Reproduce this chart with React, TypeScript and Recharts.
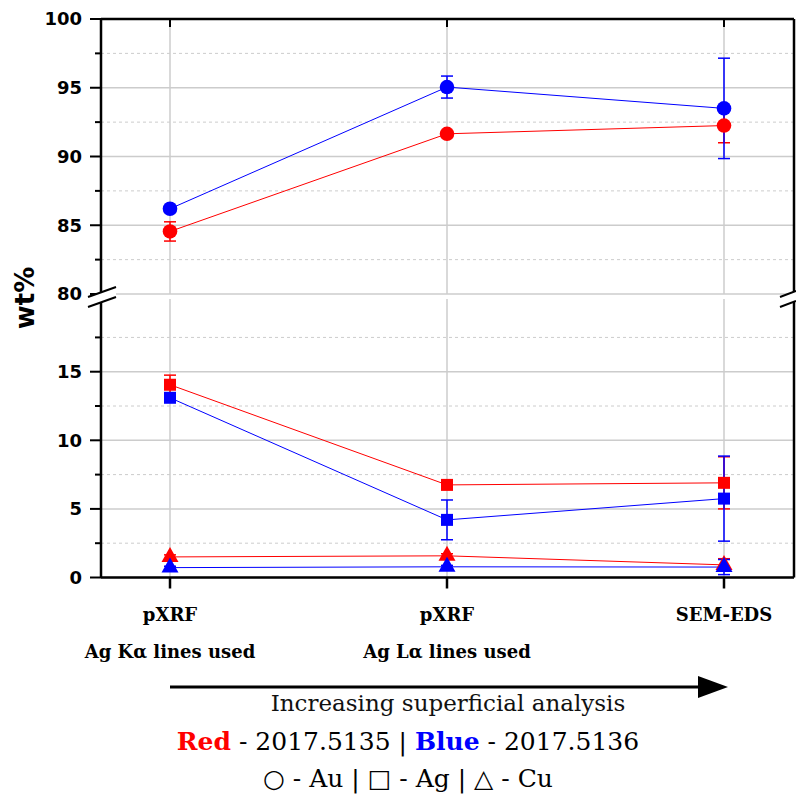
import { LineChart, Line, XAxis, YAxis, CartesianGrid, ErrorBar } from "recharts"

// categories along x
const categories = ["pXRF-K", "pXRF-L", "SEM-EDS"]
const categoryLabels = [["pXRF", "Ag K\u03b1 lines used"], ["pXRF", "Ag L\u03b1 lines used"], ["SEM-EDS"]]

// Au (circles)
const auRed = [84.55, 91.65, 92.25]
const auRedErr = [0.7, 0.2, 1.25]
const auBlue = [86.2, 95.05, 93.5]
const auBlueErr = [0.2, 0.8, 3.65]

// Ag (squares)
const agRed = [14.05, 6.75, 6.9]
const agRedErr = [0.7, 0.15, 1.9]
const agBlue = [13.1, 4.2, 5.75]
const agBlueErr = [0.3, 1.45, 3.1]

// Cu (triangles)
const cuRed = [1.5, 1.58, 0.92]
const cuRedErr = [0.15, 0.15, 0.45]
const cuBlue = [0.72, 0.78, 0.76]
const cuBlueErr = [0.1, 0.1, 0.55]

const topTicks = [80, 82.5, 85, 87.5, 90, 92.5, 95, 97.5, 100]
const topMajor = [80, 85, 90, 95, 100]
const topMinor = [82.5, 87.5, 92.5, 97.5]
const bottomTicks = [0, 2.5, 5, 7.5, 10, 12.5, 15, 17.5]
const bottomMajor = [0, 5, 10, 15]
const bottomMinor = [2.5, 7.5, 12.5, 17.5]

const RED = "#ff0000"
const BLUE = "#0000ff"
const GRID = "#cccccc"

const topData = categories.map((c, i) => ({
  cat: c,
  auRed: auRed[i],
  auRedErr: auRedErr[i],
  auBlue: auBlue[i],
  auBlueErr: auBlueErr[i],
}))

const bottomData = categories.map((c, i) => ({
  cat: c,
  agRed: agRed[i],
  agRedErr: agRedErr[i],
  agBlue: agBlue[i],
  agBlueErr: agBlueErr[i],
  cuRed: cuRed[i],
  cuRedErr: cuRedErr[i],
  cuBlue: cuBlue[i],
  cuBlueErr: cuBlueErr[i],
}))

const circleDot = (color: string) => (p: any) => (
  <circle key={p.key} cx={p.cx} cy={p.cy} r={7.3} fill={color} />
)
const squareDot = (color: string) => (p: any) => (
  <rect key={p.key} x={p.cx - 6} y={p.cy - 6} width={12} height={12} fill={color} />
)
const triangleDot = (color: string) => (p: any) => (
  <polygon
    key={p.key}
    points={`${p.cx},${p.cy - 10} ${p.cx - 8.5},${p.cy + 5} ${p.cx + 8.5},${p.cy + 5}`}
    fill={color}
  />
)

const leftTick = (majors: number[]) => (props: any) => {
  const { x, y, payload } = props
  const major = majors.includes(payload.value)
  return (
    <g>
      <line x1={x - (major ? 11 : 6)} x2={x} y1={y} y2={y} stroke="#000" strokeWidth={2} />
      {major && (
        <text
          x={x - 19}
          y={y}
          dy="0.36em"
          textAnchor="end"
          fontFamily="DejaVu Sans"
          fontWeight="bold"
          fontSize={18}
          fill="#000"
        >
          {payload.value}
        </text>
      )}
    </g>
  )
}

// right axis: ticks point into the plot
const RightTick = (props: any) => (
  <g>
    <line x1={props.x - 12} x2={props.x} y1={props.y} y2={props.y} stroke="#000" strokeWidth={2} />
  </g>
)

// top axis: ticks point down into the plot
const TopTick = (props: any) => (
  <g>
    <line x1={props.x} x2={props.x} y1={props.y} y2={props.y + 8} stroke="#000" strokeWidth={2} />
  </g>
)

const CategoryTick = (props: any) => {
  const { x, y, payload } = props
  const lines = categoryLabels[categories.indexOf(payload.value)] || []
  return (
    <g>
      {lines.map((t, i) => (
        <text
          key={i}
          x={x}
          y={y + 32 + i * 37}
          textAnchor="middle"
          fontFamily="DejaVu Serif"
          fontWeight="bold"
          fontSize={18}
          fill="#000"
        >
          {t}
        </text>
      ))}
    </g>
  )
}

const axisStroke = { stroke: "#000", strokeWidth: 2.5 }

export default function App() {
  return (
    <div style={{ position: "absolute", left: 0, top: 0, width: 796, height: 798, background: "#fff" }}>
      {/* upper panel: 80 - 100 */}
      <div style={{ position: "absolute", left: 0, top: 0 }}>
        <LineChart width={796} height={312} data={topData} margin={{ top: 18, right: 1, bottom: 18, left: 0 }}>
          <CartesianGrid horizontal={false} stroke={GRID} strokeWidth={1.5} />
          <CartesianGrid vertical={false} horizontalValues={topMajor} stroke={GRID} strokeWidth={1.5} />
          <CartesianGrid vertical={false} horizontalValues={topMinor} stroke={GRID} strokeDasharray="3 3" />
          <XAxis
            dataKey="cat"
            orientation="top"
            height={1}
            padding={{ left: 69, right: 70 }}
            interval={0}
            tickLine={false}
            tickSize={0}
            tickMargin={0}
            tick={TopTick}
            axisLine={axisStroke}
          />
          <YAxis
            width={101}
            domain={[80, 100]}
            ticks={topTicks}
            interval={0}
            tickLine={false}
            tickSize={0}
            tickMargin={0}
            axisLine={axisStroke}
            tick={leftTick(topMajor)}
          />
          <YAxis
            yAxisId="r"
            orientation="right"
            width={1}
            domain={[80, 100]}
            ticks={topTicks}
            interval={0}
            tickLine={false}
            tickSize={0}
            tickMargin={0}
            tick={RightTick}
            axisLine={axisStroke}
          />
          <Line dataKey="auRed" stroke={RED} strokeWidth={1} dot={circleDot(RED)} activeDot={false} isAnimationActive={false}>
            <ErrorBar dataKey="auRedErr" direction="y" width={6} stroke={RED} strokeWidth={1.5} />
          </Line>
          <Line dataKey="auBlue" stroke={BLUE} strokeWidth={1} dot={circleDot(BLUE)} activeDot={false} isAnimationActive={false}>
            <ErrorBar dataKey="auBlueErr" direction="y" width={6} stroke={BLUE} strokeWidth={1.5} />
          </Line>
        </LineChart>
      </div>

      {/* lower panel: 0 - 20 */}
      <div style={{ position: "absolute", left: 0, top: 290 }}>
        <LineChart width={796} height={372} data={bottomData} margin={{ top: 9, right: 1, bottom: 0, left: 0 }}>
          <CartesianGrid horizontal={false} stroke={GRID} strokeWidth={1.5} />
          <CartesianGrid vertical={false} horizontalValues={bottomMajor} stroke={GRID} strokeWidth={1.5} />
          <CartesianGrid vertical={false} horizontalValues={bottomMinor} stroke={GRID} strokeDasharray="3 3" />
          <XAxis
            dataKey="cat"
            height={84.5}
            padding={{ left: 69, right: 70 }}
            tickSize={11}
            tickMargin={0}
            tickLine={axisStroke}
            axisLine={axisStroke}
            tick={CategoryTick}
            interval={0}
          />
          <YAxis
            width={101}
            domain={[0, 20.3]}
            ticks={bottomTicks}
            interval={0}
            tickLine={false}
            tickSize={0}
            tickMargin={0}
            axisLine={axisStroke}
            tick={leftTick(bottomMajor)}
          />
          <YAxis
            yAxisId="r"
            orientation="right"
            width={1}
            domain={[0, 20.3]}
            ticks={bottomTicks}
            interval={0}
            tickLine={false}
            tickSize={0}
            tickMargin={0}
            tick={RightTick}
            axisLine={axisStroke}
          />
          <Line dataKey="agRed" stroke={RED} strokeWidth={1} dot={squareDot(RED)} activeDot={false} isAnimationActive={false}>
            <ErrorBar dataKey="agRedErr" direction="y" width={6} stroke={RED} strokeWidth={1.5} />
          </Line>
          <Line dataKey="agBlue" stroke={BLUE} strokeWidth={1} dot={squareDot(BLUE)} activeDot={false} isAnimationActive={false}>
            <ErrorBar dataKey="agBlueErr" direction="y" width={6} stroke={BLUE} strokeWidth={1.5} />
          </Line>
          <Line dataKey="cuRed" stroke={RED} strokeWidth={1} dot={triangleDot(RED)} activeDot={false} isAnimationActive={false}>
            <ErrorBar dataKey="cuRedErr" direction="y" width={6} stroke={RED} strokeWidth={1.5} />
          </Line>
          <Line dataKey="cuBlue" stroke={BLUE} strokeWidth={1} dot={triangleDot(BLUE)} activeDot={false} isAnimationActive={false}>
            <ErrorBar dataKey="cuBlueErr" direction="y" width={6} stroke={BLUE} strokeWidth={1.5} />
          </Line>
        </LineChart>
      </div>

      {/* axis break marks, y label, arrow and legend text */}
      <svg width={796} height={798} style={{ position: "absolute", left: 0, top: 0, pointerEvents: "none" }}>
        <polygon points="88,297 116,287 116,297 88,307" fill="#fff" />
        <line x1={88} y1={297} x2={116} y2={287} stroke="#000" strokeWidth={2} />
        <line x1={88} y1={307} x2={116} y2={297} stroke="#000" strokeWidth={2} />
        <polygon points="780,297 796,291 796,301 780,307" fill="#fff" />
        <line x1={780} y1={297} x2={796} y2={291} stroke="#000" strokeWidth={2} />
        <line x1={780} y1={307} x2={796} y2={301} stroke="#000" strokeWidth={2} />

        <text
          transform="translate(34,298) rotate(-90)"
          textAnchor="middle"
          fontFamily="DejaVu Sans"
          fontWeight="bold"
          fontSize={26}
          fill="#000"
        >
          wt%
        </text>

        <line x1={170} y1={687} x2={702} y2={687} stroke="#000" strokeWidth={3} />
        <polygon points="698,676 728,687 698,698" fill="#000" />

        <text x={448} y={711} textAnchor="middle" fontFamily="DejaVu Serif" fontSize={23} fill="#111">
          Increasing superficial analysis
        </text>
        <text x={408} y={750} textAnchor="middle" fontFamily="DejaVu Serif" fontSize={25} fill="#000">
          <tspan fill={RED} fontWeight="bold">Red</tspan>
          <tspan> - 2017.5135 | </tspan>
          <tspan fill={BLUE} fontWeight="bold">Blue</tspan>
          <tspan> - 2017.5136</tspan>
        </text>
        <text x={408} y={787} textAnchor="middle" fontFamily="DejaVu Serif" fontSize={25} fill="#000">
          {"\u25cb - Au | \u25a1 - Ag | \u25b3 - Cu"}
        </text>
      </svg>
    </div>
  )
}
